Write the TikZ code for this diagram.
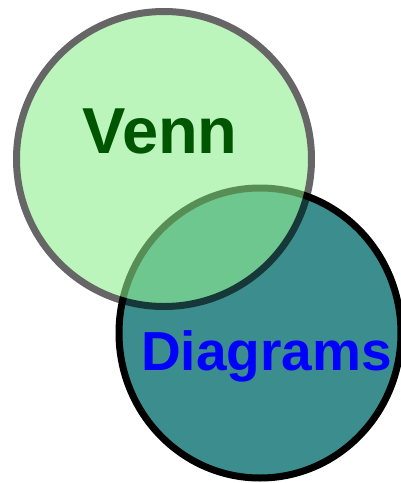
\documentclass[tikz,border=0pt]{standalone}
\usepackage{fontspec}
\setmainfont{Liberation Sans}
\definecolor{tealfill}{RGB}{59,142,141}
\definecolor{venngreen}{RGB}{0,85,0}
\definecolor{lightgreenfill}{RGB}{144,238,144}
\begin{document}
\begin{tikzpicture}[x=1pt,y=-1pt,
  labeltext/.style={font=\bfseries, anchor=base, inner sep=0pt}]
\useasboundingbox (0,0) rectangle (401,483);
% Diagrams set (opaque)
\draw[line width=7pt, draw=black, fill=tealfill] (260,333) ellipse [x radius=141, y radius=145];
% Venn set (transparent, on top)
\begin{scope}[transparency group, opacity=0.6]
\draw[line width=7pt, draw=black, fill=lightgreenfill] (164,159) circle [radius=147.5];
\end{scope}
\node[labeltext, text=venngreen, font=\fontsize{65}{65}\selectfont\bfseries] (venn) at (160,153.5) {Venn};
\node[labeltext, text=blue, font=\fontsize{55}{55}\selectfont\bfseries] (diagrams) at (266.5,370) {Diagrams};
\end{tikzpicture}
\end{document}
